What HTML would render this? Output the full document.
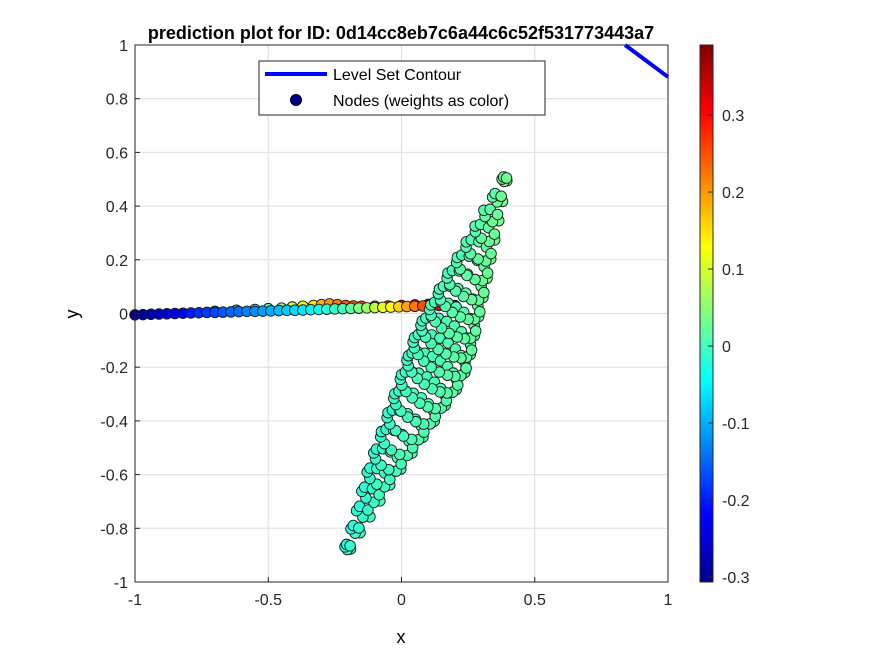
<!DOCTYPE html>
<html><head><meta charset="utf-8"><style>
body{margin:0;background:#fff;}
svg text{font-family:"Liberation Sans",sans-serif;}
</style></head><body>
<svg id="chart" width="875" height="656" xmlns="http://www.w3.org/2000/svg">
<rect x="0" y="0" width="875" height="656" fill="#fff"/>
<g id="grid"></g>
<g id="marks"></g>
<g id="axes"></g>
<text x="401" y="39" text-anchor="middle" font-size="18" font-weight="bold">prediction plot for ID: 0d14cc8eb7c6a44c6c52f531773443a7</text>
<text x="401" y="643" text-anchor="middle" font-size="18">x</text>
<text x="78" y="314" text-anchor="middle" font-size="18" transform="rotate(-90 78 314)">y</text>
<g>
<rect x="259" y="61" width="286" height="54" fill="#fff" stroke="#262626" stroke-width="1"/>
<line x1="265" y1="74" x2="327" y2="74" stroke="#0000ff" stroke-width="4"/>
<text x="333" y="80" font-size="16">Level Set Contour</text>
<circle cx="296" cy="100" r="5.5" fill="#00008f" stroke="#000" stroke-width="1"/>
<text x="333" y="106" font-size="16">Nodes (weights as color)</text>
</g>
<defs><linearGradient id="jet" x1="0" y1="1" x2="0" y2="0">
<stop offset="0" stop-color="#00008f"/><stop offset="0.125" stop-color="#0000ff"/><stop offset="0.375" stop-color="#00ffff"/><stop offset="0.625" stop-color="#ffff00"/><stop offset="0.875" stop-color="#ff0000"/><stop offset="1" stop-color="#800000"/>
</linearGradient></defs>
<g id="cbar">
<rect x="700" y="45" width="13" height="537" fill="url(#jet)" stroke="#262626" stroke-width="1"/>
</g>
</svg>
<script>
const xTicks=[-1,-0.5,0,0.5,1];
const yTicks=[-1,-0.8,-0.6,-0.4,-0.2,0,0.2,0.4,0.6,0.8,1];
const cbTicks=[-0.3,-0.2,-0.1,0,0.1,0.2,0.3];
const cbMin=-0.3065, cbMax=0.391;
// contour
const contourX=[0.839,1.0];
const contourY=[1.0,0.881];
// horizontal band nodes
const bandX=[-1,-0.97,-0.94,-0.91,-0.88,-0.85,-0.82,-0.79,-0.76,-0.73,-0.7,-0.67,-0.64,-0.61,-0.58,-0.55,-0.52,-0.49,-0.46,-0.43,-0.4,-0.37,-0.34,-0.31,-0.28,-0.25,-0.22,-0.19,-0.16,-0.13,-0.1,-0.07,-0.04,-0.01,0.02,0.05,0.08,0.11,0.14,0.17,0.2];
const bandY=[-0.005,-0.004,-0.003,-0.002,-0.001,0,0.001,0.002,0.003,0.004,0.004,0.005,0.006,0.007,0.008,0.008,0.009,0.01,0.011,0.012,0.012,0.013,0.014,0.015,0.016,0.017,0.018,0.019,0.02,0.021,0.022,0.023,0.024,0.025,0.026,0.027,0.028,0.029,0.03,0.031,0.03];
const bandW=[-0.3,-0.29,-0.27,-0.26,-0.24,-0.23,-0.22,-0.2,-0.19,-0.18,-0.17,-0.16,-0.15,-0.14,-0.13,-0.12,-0.11,-0.1,-0.09,-0.08,-0.07,-0.06,-0.05,-0.04,-0.02,-0.01,0.0,0.02,0.04,0.06,0.09,0.11,0.13,0.16,0.19,0.22,0.25,0.28,0.31,0.35,0.38];
// upper band layer
const upX=[-0.7,-0.62,-0.55,-0.5,-0.45,-0.41,-0.37,-0.33,-0.3,-0.27,-0.24,-0.21,-0.18,-0.15,-0.1,-0.05,0.0,0.05,0.1,0.15];
const upY=[0.008,0.012,0.015,0.018,0.02,0.024,0.027,0.03,0.033,0.036,0.033,0.03,0.028,0.027,0.027,0.028,0.03,0.032,0.034,0.035];
const upW=[-0.15,-0.1,-0.05,0.0,0.05,0.08,0.12,0.15,0.18,0.2,0.22,0.24,0.25,0.26,0.28,0.3,0.32,0.34,0.36,0.38];
// rings along diagonal
const ringCX=[-0.201,-0.172,-0.143,-0.114,-0.085,-0.052,-0.018,0.015,0.049,0.082,0.116,0.143,0.168,0.192,0.216,0.24,0.265,0.289,0.313,0.337,0.361,0.387];
const ringCY=[-0.87,-0.805,-0.74,-0.675,-0.61,-0.545,-0.48,-0.415,-0.35,-0.285,-0.22,-0.155,-0.09,-0.025,0.04,0.105,0.17,0.235,0.3,0.365,0.43,0.5];
const ringR=[0.012,0.02,0.03,0.04,0.05,0.06,0.07,0.08,0.09,0.1,0.11,0.115,0.11,0.1,0.09,0.08,0.068,0.056,0.045,0.034,0.022,0.01];
const ringW=[-0.015,-0.013,-0.011,-0.009,-0.007,-0.005,-0.003,-0.001,0.001,0.003,0.005,0.007,0.009,0.011,0.013,0.015,0.017,0.019,0.021,0.023,0.025,0.028];

const NS='http://www.w3.org/2000/svg';
const X0=135,X1=668,Y0=582,Y1=45;
const sx=v=>X0+(v+1)/2*(X1-X0);
const sy=v=>Y0-(v+1)/2*(Y0-Y1);
const cy=v=>582-(v-cbMin)/(cbMax-cbMin)*537;
function jet(v){
  let t=(v-cbMin)/(cbMax-cbMin);t=Math.max(0,Math.min(1,t));
  const f=x=>Math.max(0,Math.min(1,1.5-Math.abs(4*t-x)));
  return `rgb(${Math.round(255*f(3))},${Math.round(255*f(2))},${Math.round(255*f(1))})`;
}
function mk(tag,attrs,parent){const e=document.createElementNS(NS,tag);for(const k in attrs)e.setAttribute(k,attrs[k]);parent.appendChild(e);return e;}
const grid=document.getElementById('grid'),axes=document.getElementById('axes'),marks=document.getElementById('marks'),cbar=document.getElementById('cbar');
mk('rect',{x:X0,y:Y1,width:X1-X0,height:Y0-Y1,fill:'#fff'},grid);
xTicks.forEach(t=>{
  const l=mk('line',{x1:sx(t),x2:sx(t),y1:Y1,y2:Y0,stroke:'#dedede'},grid);
  
  const k=mk('line',{x1:sx(t),x2:sx(t),y1:Y0,y2:Y0-5,stroke:'#262626'},axes);
  
  const tx=mk('text',{x:sx(t),y:Y0+23,'text-anchor':'middle','font-size':16,fill:'#262626'},axes);tx.textContent=String(t);
  
});
yTicks.forEach(t=>{
  const l=mk('line',{x1:X0,x2:X1,y1:sy(t),y2:sy(t),stroke:'#dedede'},grid);
  
  const k=mk('line',{x1:X0,x2:X0+5,y1:sy(t),y2:sy(t),stroke:'#262626'},axes);
  
  const tx=mk('text',{x:X0-7,y:sy(t)+6,'text-anchor':'end','font-size':16,fill:'#262626'},axes);tx.textContent=String(t);
  
});
const box=mk('rect',{x:X0,y:Y1,width:X1-X0,height:Y0-Y1,fill:'none',stroke:'#262626'},axes);

function dot(x,y,w){const c=mk('circle',{cx:sx(x),cy:sy(y),r:5.3,fill:jet(w),stroke:'#1a1a1a','stroke-width':0.9},marks);
  }
upX.forEach((x,i)=>dot(x,upY[i],upW[i]));
bandX.forEach((x,i)=>dot(x,bandY[i],bandW[i]));
const ang=35*Math.PI/180;
ringCX.forEach((cx0,i)=>{
  const a=ringR[i]*266.5, b=a*0.45+1;
  const NP=Math.max(5,Math.round(a/1.5));
  for(let k=0;k<NP;k++){
    const th=2*Math.PI*k/NP;
    const px=sx(cx0)+a*Math.cos(th)*Math.cos(ang)-b*Math.sin(th)*Math.sin(ang);
    const py=sy(ringCY[i])+a*Math.cos(th)*Math.sin(ang)+b*Math.sin(th)*Math.cos(ang);
    const c=mk('circle',{cx:px,cy:py,r:5.3,fill:jet(ringW[i]+0.01*Math.cos(th)),stroke:'#1a1a1a','stroke-width':0.9},marks);
    
  }
});
const cl=mk('polyline',{points:contourX.map((x,i)=>sx(x)+','+sy(contourY[i])).join(' '),fill:'none',stroke:'#0000ff','stroke-width':4},marks);

cbTicks.forEach(t=>{
  const k=mk('line',{x1:708,x2:713,y1:cy(t),y2:cy(t),stroke:'#262626'},cbar);
  
  const tx=mk('text',{x:722,y:cy(t)+6,'font-size':16,fill:'#262626'},cbar);tx.textContent=String(t);
  
});
</script>
</body></html>
